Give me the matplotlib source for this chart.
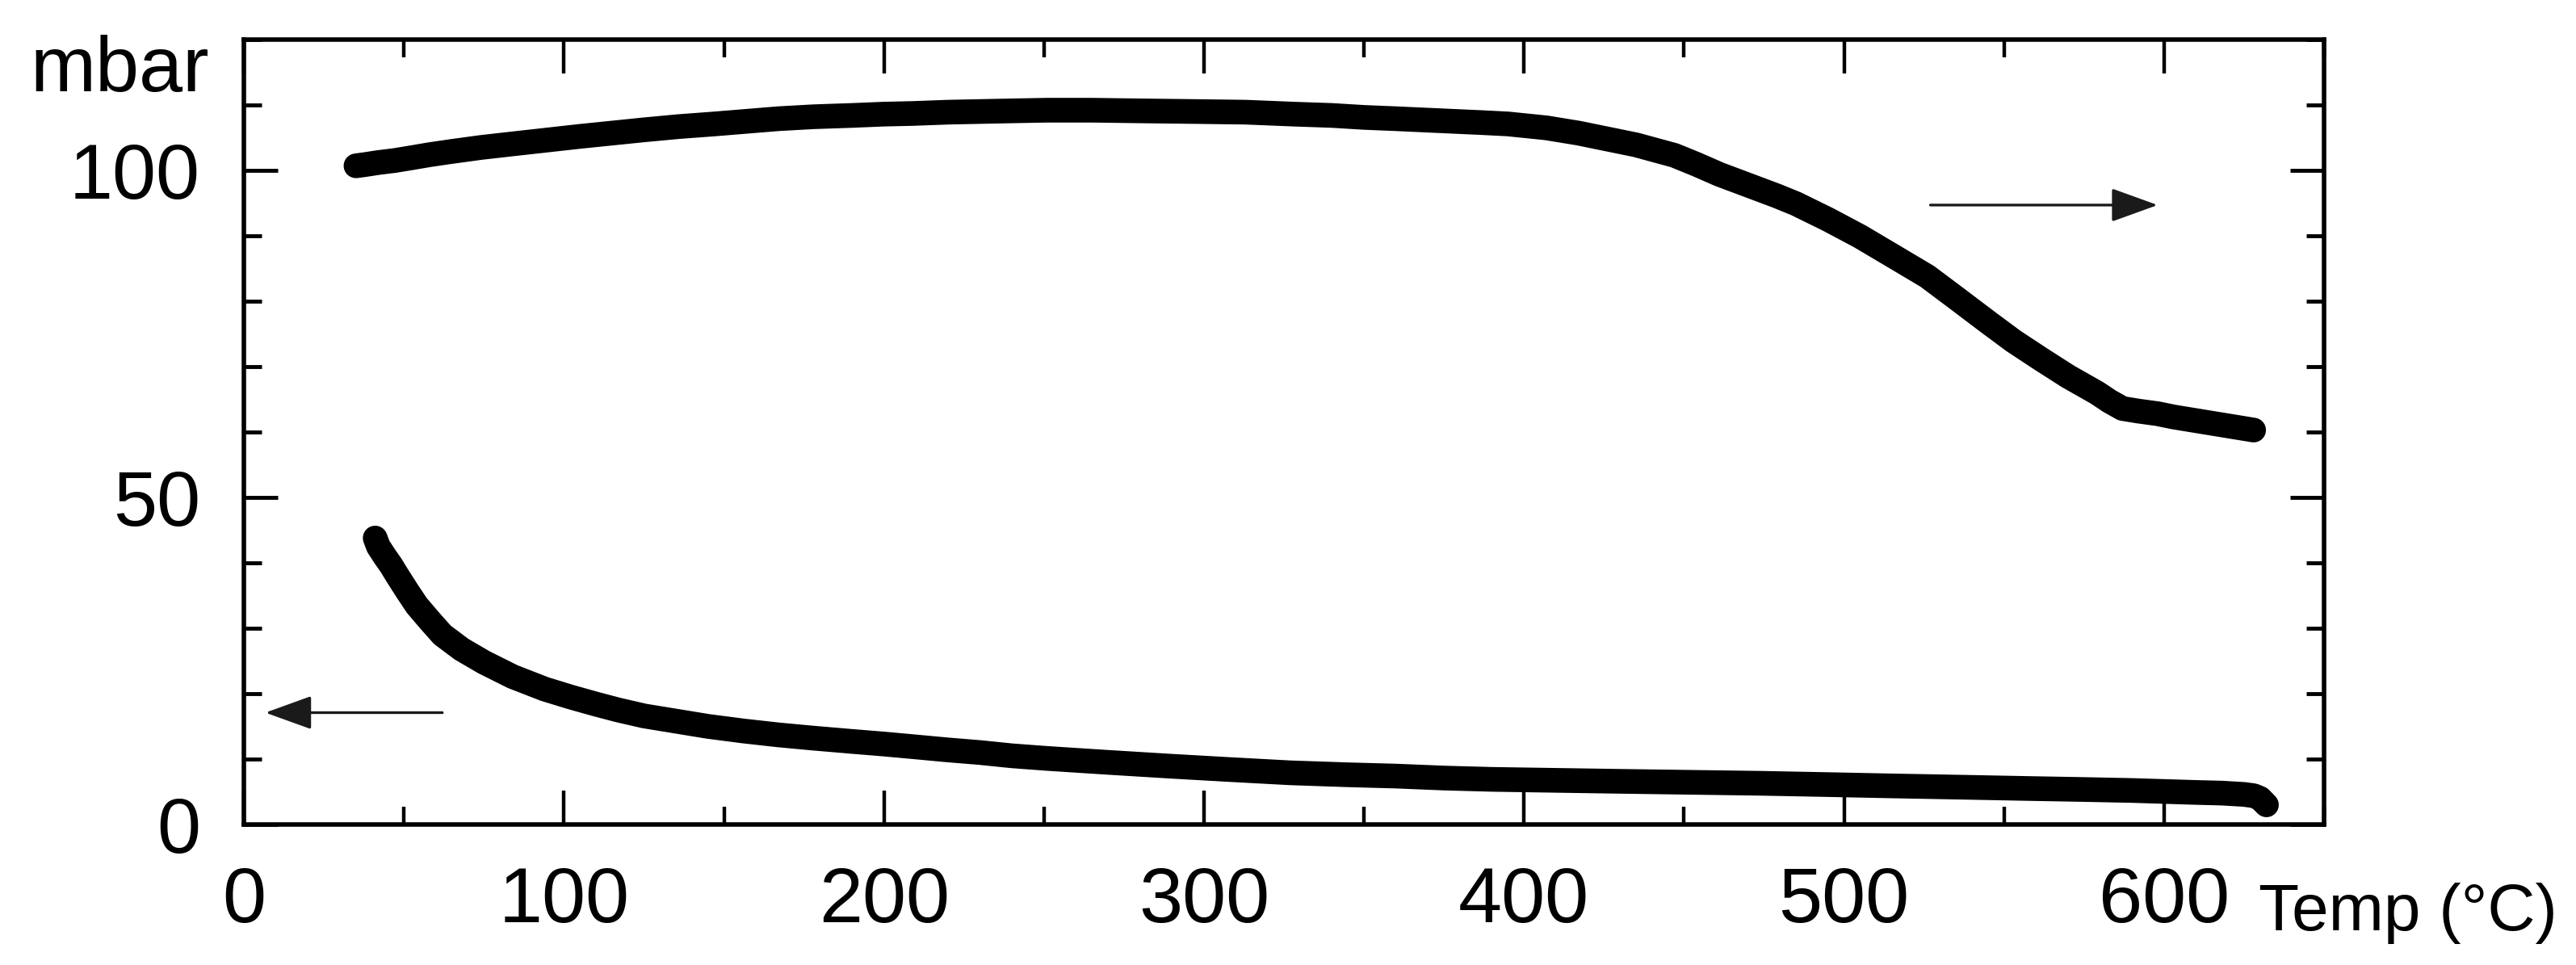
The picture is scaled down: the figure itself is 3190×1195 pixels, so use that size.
import matplotlib
matplotlib.use("Agg")
import matplotlib.pyplot as plt
from matplotlib.ticker import MultipleLocator

plt.rcParams['font.family'] = ['Liberation Sans', 'DejaVu Sans']

# upper curve (right axis, read with the same scale)
upper_t = [35, 38, 42, 47, 52, 58, 65, 74, 83, 94, 105, 115, 125, 136, 147,
           157, 167, 178, 190, 200, 209, 220, 230, 240, 251, 265, 280, 297,
           313, 328, 340, 350, 360, 369, 378, 387, 395, 401, 407, 412, 417,
           422, 428, 435, 441, 447, 454, 461, 467, 473, 479, 485, 495, 505,
           515, 526, 535, 545, 553, 562, 570, 579, 583, 587, 592, 598, 603,
           608, 613, 618, 623, 628]
upper_p = [100.7, 100.9, 101.2, 101.5, 101.9, 102.4, 102.9, 103.5, 104.0, 104.6,
           105.2, 105.7, 106.2, 106.7, 107.1, 107.5, 107.9, 108.2, 108.4, 108.6,
           108.7, 108.9, 109.0, 109.1, 109.2, 109.2, 109.1, 109.0, 108.9, 108.6,
           108.4, 108.1, 107.9, 107.7, 107.5, 107.3, 107.1, 106.8, 106.5, 106.1,
           105.7, 105.2, 104.6, 103.9, 103.1, 102.3, 100.9, 99.4, 98.3, 97.2,
           96.1, 94.9, 92.5, 89.9, 87.0, 83.8, 80.5, 76.8, 73.9, 71.0, 68.5,
           66.0, 64.7, 63.6, 63.2, 62.8, 62.3, 61.9, 61.5, 61.1, 60.7, 60.3]

# lower curve (left axis)
lower_t = [41, 42, 44, 46, 48, 51, 54, 58, 62, 68, 75, 84, 94, 102, 110, 117,
           125, 135, 145, 156, 167, 178, 190, 200, 209, 220, 230, 240, 251,
           270, 290, 308, 327, 345, 360, 375, 390, 410, 430, 452, 474, 495,
           515, 537, 558, 575, 590, 600, 610, 618, 625, 628, 630, 631, 632]
lower_p = [43.8, 42.5, 41.0, 39.6, 38.0, 35.7, 33.5, 31.2, 29.0, 26.8, 24.8,
           22.6, 20.7, 19.5, 18.4, 17.5, 16.6, 15.8, 15.0, 14.3, 13.7, 13.2,
           12.7, 12.3, 11.9, 11.4, 11.0, 10.5, 10.1, 9.5, 8.9, 8.4, 7.9, 7.6,
           7.4, 7.1, 6.9, 6.75, 6.6, 6.45, 6.3, 6.1, 5.9, 5.7, 5.5, 5.35,
           5.2, 5.05, 4.9, 4.8, 4.6, 4.4, 4.0, 3.5, 3.0]

xticks = [0, 100, 200, 300, 400, 500, 600]
yticks = [0, 50, 100]

fig = plt.figure(figsize=(31.9, 11.95), dpi=100)
ax = fig.add_axes([0.0947, 0.1456, 0.9022 - 0.0947, 0.959 - 0.1456])

ax.plot(upper_t, upper_p, color='black', lw=22, solid_capstyle='round', solid_joinstyle='round')
ax.plot(lower_t, lower_p, color='black', lw=22, solid_capstyle='round', solid_joinstyle='round')

# arrows pointing to the axis each curve belongs to
arrow_style = dict(arrowstyle='-|>,head_length=1.8,head_width=0.65',
                   mutation_scale=20, lw=2.4, color='#1a1a1a',
                   shrinkA=0, shrinkB=0)
ax.annotate('', xy=(6.7, 17.1), xytext=(62, 17.1), arrowprops=arrow_style)
ax.annotate('', xy=(598, 94.7), xytext=(527, 94.7), arrowprops=arrow_style)

ax.set_xlim(0, 650)
ax.set_ylim(0, 120)
ax.set_xticks(xticks)
ax.set_yticks(yticks)
ax.xaxis.set_minor_locator(MultipleLocator(50))
ax.yaxis.set_minor_locator(MultipleLocator(10))
ax.tick_params(which='both', direction='in', top=True, right=True)
ax.tick_params(axis='x', which='major', length=30, width=3.2, pad=37, labelsize=70)
ax.tick_params(axis='x', which='minor', length=16, width=3.2)
ax.tick_params(axis='y', which='major', length=30, width=3.5, pad=39, labelsize=70)
ax.tick_params(axis='y', which='minor', length=16, width=3.5)
for s in ax.spines.values():
    s.set_linewidth(4)

fig.text(38 / 3190, 1 - 113 / 1195, 'mbar', fontsize=70, va='baseline', ha='left')
fig.text(2797 / 3190, 1 - 1152 / 1195, 'Temp (°C)', fontsize=59, va='baseline', ha='left')

fig.savefig('out.png', dpi=100)
